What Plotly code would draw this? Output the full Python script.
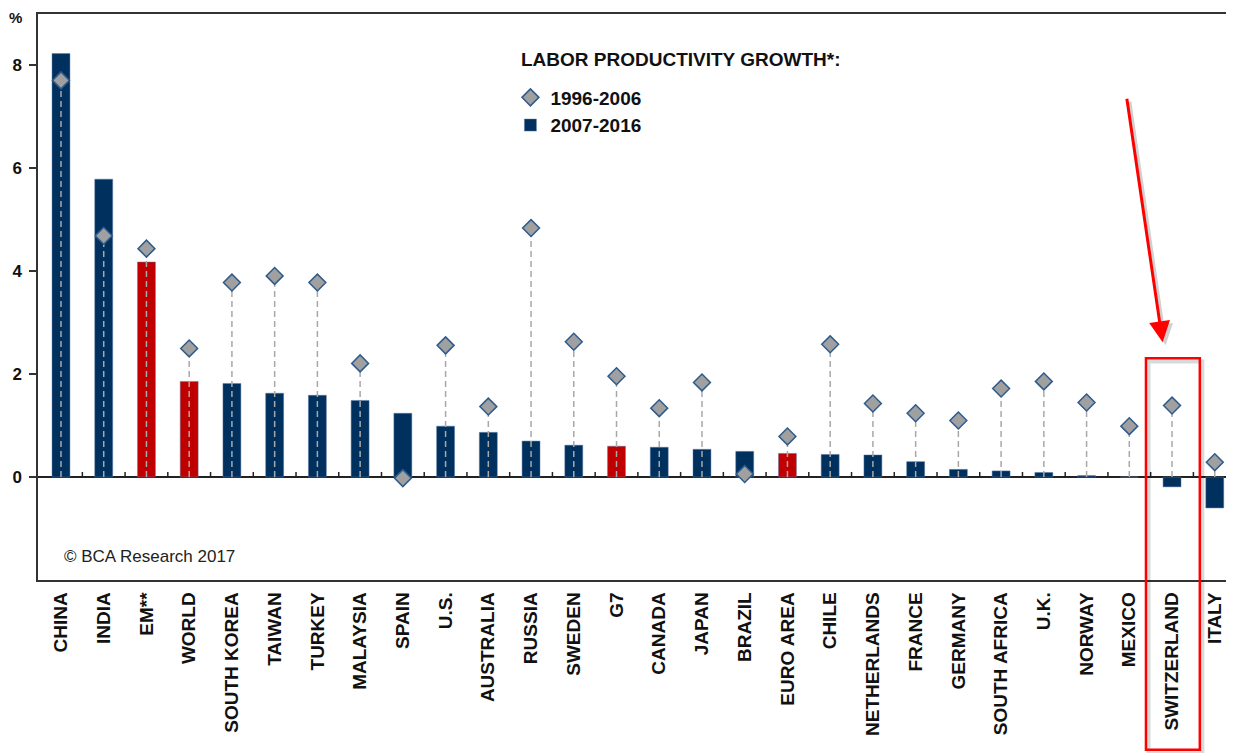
import plotly.graph_objects as go

categories = ["CHINA", "INDIA", "EM**", "WORLD", "SOUTH KOREA", "TAIWAN", "TURKEY",
              "MALAYSIA", "SPAIN", "U.S.", "AUSTRALIA", "RUSSIA", "SWEDEN", "G7",
              "CANADA", "JAPAN", "BRAZIL", "EURO AREA", "CHILE", "NETHERLANDS",
              "FRANCE", "GERMANY", "SOUTH AFRICA", "U.K.", "NORWAY", "MEXICO",
              "SWITZERLAND", "ITALY"]
growth_2007_2016 = [8.23, 5.79, 4.18, 1.86, 1.82, 1.63, 1.59, 1.49, 1.24, 0.99, 0.87,
                    0.70, 0.62, 0.60, 0.58, 0.54, 0.50, 0.46, 0.44, 0.43, 0.30, 0.15,
                    0.12, 0.09, 0.03, 0.00, -0.19, -0.60]
growth_1996_2006 = [7.71, 4.69, 4.44, 2.50, 3.78, 3.91, 3.78, 2.21, -0.02, 2.56, 1.37,
                    4.84, 2.63, 1.96, 1.34, 1.84, 0.06, 0.79, 2.58, 1.43, 1.24, 1.10,
                    1.72, 1.86, 1.45, 0.99, 1.39, 0.29]
aggregates = ["EM**", "WORLD", "G7", "EURO AREA"]
y_ticks = [0, 2, 4, 6, 8]

NAVY = "#00305E"
RED = "#C00000"
FONT = "Liberation Sans"

x_idx = list(range(len(categories)))
bar_colors = [RED if c in aggregates else NAVY for c in categories]

fig = go.Figure()

fig.add_trace(go.Bar(
    x=x_idx, y=growth_2007_2016, width=0.42,
    marker=dict(color=bar_colors, line=dict(color="rgba(90,120,165,0.6)", width=0.8)),
    name="2007-2016", legendrank=2, legendgroup="b"
))

stem_x, stem_y = [], []
for i, v in zip(x_idx, growth_1996_2006):
    stem_x += [i, i, None]
    stem_y += [0, v, None]
fig.add_trace(go.Scatter(
    x=stem_x, y=stem_y, mode="lines",
    line=dict(color="#A8A8A8", width=1.5, dash="6px,4px"),
    showlegend=False, hoverinfo="skip"
))

fig.add_trace(go.Scatter(
    x=x_idx, y=growth_1996_2006, mode="markers",
    marker=dict(symbol="diamond", size=13, color="#A0A0A0",
                line=dict(color="#2E5B8C", width=1.5)),
    name="1996-2006", legendrank=1, legendgroup="a"
))

# small tick marks on the zero line between categories
shapes = []
for i in x_idx[:-1]:
    shapes.append(dict(type="line", xref="x", yref="y", x0=i + 0.5, x1=i + 0.5,
                       y0=0, y1=0.1, line=dict(color="#222222", width=1.5)))

# highlight box with shadow
sw = categories.index("SWITZERLAND")
shapes.append(dict(type="rect", xref="x", yref="paper", x0=sw - 0.55, x1=sw + 0.71,
                   y0=-0.306, y1=0.386, line=dict(color="rgba(0,0,0,0.15)", width=4)))
shapes.append(dict(type="rect", xref="x", yref="paper", x0=sw - 0.61, x1=sw + 0.65,
                   y0=-0.300, y1=0.392, line=dict(color="#FF0000", width=2.5)))

annotations = [
    dict(text="LABOR PRODUCTIVITY GROWTH*:", xref="paper", yref="paper",
         x=0.402, y=0.919, xanchor="left", yanchor="middle", showarrow=False,
         font=dict(family=FONT, size=19, color="#111111", weight="bold")),
    dict(text="© BCA Research 2017", xref="paper", yref="paper",
         x=0.02, y=0.0424, xanchor="left", yanchor="middle", showarrow=False,
         font=dict(family=FONT, size=17, color="#222222")),
    dict(text="%", xref="paper", yref="paper",
         x=-0.0184, y=0.993, xanchor="center", yanchor="middle", showarrow=False,
         font=dict(family=FONT, size=15, color="#111111", weight="bold")),
    dict(text="", xref="x", yref="y", x=sw - 0.22, y=2.62, ax=-36, ay=-245,
         showarrow=True, arrowhead=2, arrowsize=1.4, arrowwidth=3,
         arrowcolor="rgba(0,0,0,0.18)", xshift=3, yshift=-3),
    dict(text="", xref="x", yref="y", x=sw - 0.22, y=2.62, ax=-36, ay=-245,
         showarrow=True, arrowhead=2, arrowsize=1.4, arrowwidth=3,
         arrowcolor="#FF0000"),
]

# page body has an 8px margin: shrink the figure and shift margins to compensate
fig.update_layout(
    width=1226, height=745,
    margin=dict(l=30, r=0, t=6, b=173),
    plot_bgcolor="white", paper_bgcolor="white",
    showlegend=True,
    legend=dict(x=0.395, y=0.886, xanchor="left", yanchor="top",
                bgcolor="rgba(0,0,0,0)", tracegroupgap=0,
                font=dict(family=FONT, size=19, color="#111111", weight="bold")),
    shapes=shapes, annotations=annotations, bargap=0.5,
)
fig.update_xaxes(
    range=[-0.538, 27.45], tickvals=x_idx, ticktext=categories, tickangle=-90,
    tickfont=dict(family=FONT, size=19, color="#111111", weight="bold"),
    showline=True, linecolor="#333333", linewidth=1.5, mirror=True,
    ticks="", showgrid=False, zeroline=False, ticklabelstandoff=3,
)
fig.update_yaxes(
    range=[-2, 9], tickvals=y_ticks,
    tickfont=dict(family=FONT, size=17, color="#111111", weight="bold"),
    ticks="outside", ticklen=7, tickwidth=1.5, tickcolor="#333333",
    showline=True, linecolor="#333333", linewidth=1.5, ticklabelstandoff=4,
    showgrid=False, zeroline=True, zerolinecolor="#222222", zerolinewidth=1.5,
)

fig.write_html("out.html")
